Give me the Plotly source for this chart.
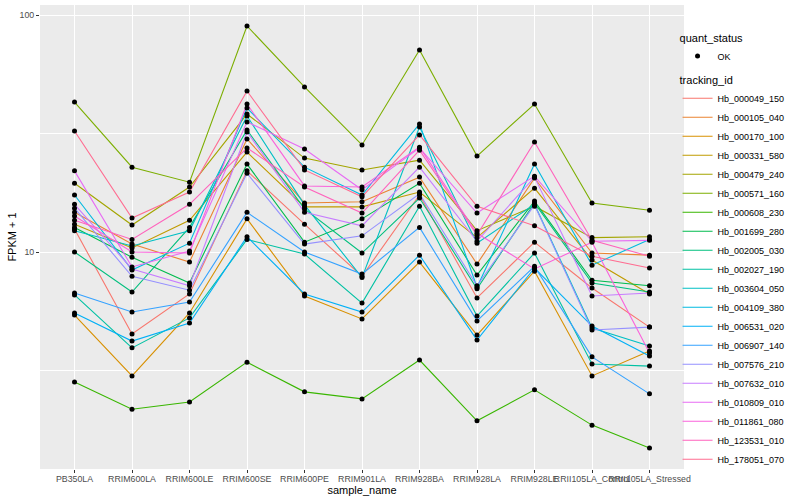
import plotly.graph_objects as go

samples = ["PB350LA", "RRIM600LA", "RRIM600LE", "RRIM600SE", "RRIM600PE", "RRIM901LA",
           "RRIM928BA", "RRIM928LA", "RRIM928LE", "RRII105LA_Control", "RRII105LA_Stressed"]

tracking_ids = ["Hb_000049_150", "Hb_000105_040", "Hb_000170_100", "Hb_000331_580", "Hb_000479_240",
                "Hb_000571_160", "Hb_000608_230", "Hb_001699_280", "Hb_002005_030", "Hb_002027_190",
                "Hb_003604_050", "Hb_004109_380", "Hb_006531_020", "Hb_006907_140", "Hb_007576_210",
                "Hb_007632_010", "Hb_010809_010", "Hb_011861_080", "Hb_123531_010", "Hb_178051_070"]

colors = ["#F8766D", "#EA8331", "#D89000", "#C09B00", "#A3A500", "#7CAE00", "#39B600", "#00BB4E",
          "#00BF7D", "#00C1A3", "#00BFC4", "#00BAE0", "#00B0F6", "#35A2FF", "#9590FF", "#C77CFF",
          "#E76BF3", "#FA62DB", "#FF62BC", "#FF6C91"]

# FPKM + 1 per sample, one list per tracking_id
hb_000049_150 = [12.5, 4.51, 6.65, 22.0, 13.1, 7.9, 17.4, 6.4, 11.0, 7.05, 4.82]
hb_000105_040 = [14.7, 10.8, 9.07, 30.0, 16.1, 16.3, 20.7, 8.9, 20.5, 9.9, 9.7]
hb_000170_100 = [5.42, 3.0, 5.53, 13.8, 6.52, 5.22, 9.07, 4.46, 8.3, 3.0, 3.82]
hb_000331_580 = [13.1, 10.4, 13.6, 26.4, 15.5, 15.5, 17.9, 11.5, 18.6, 9.25, 6.65]
hb_000479_240 = [19.5, 13.0, 18.8, 38.2, 24.9, 22.2, 24.4, 12.3, 15.6, 11.5, 11.6]
hb_000571_160 = [42.9, 22.8, 19.7, 89.9, 49.7, 28.3, 71.2, 25.4, 42.1, 16.1, 15.0]
hb_000608_230 = [2.83, 2.17, 2.33, 3.43, 2.57, 2.40, 3.50, 1.94, 2.62, 1.86, 1.49]
hb_001699_280 = [12.7, 9.5, 7.4, 23.5, 11.0, 13.8, 19.5, 8.0, 16.4, 7.6, 7.2]
hb_002005_030 = [10.0, 6.78, 12.7, 32.7, 15.2, 9.9, 16.9, 7.0, 16.1, 7.4, 6.78]
hb_002027_190 = [6.59, 3.94, 5.27, 11.3, 9.8, 6.09, 15.6, 5.37, 9.9, 3.37, 3.30]
hb_003604_050 = [12.3, 10.6, 12.3, 37.5, 15.8, 7.8, 33.7, 10.9, 15.9, 4.78, 4.01]
hb_004109_380 = [17.4, 8.4, 10.9, 40.5, 22.8, 17.4, 34.7, 7.1, 23.5, 8.8, 11.3]
hb_006531_020 = [5.53, 4.21, 5.02, 11.6, 6.65, 5.58, 9.7, 4.25, 8.56, 4.87, 3.64]
hb_006907_140 = [6.71, 5.58, 6.15, 14.7, 10.0, 8.07, 12.7, 5.12, 8.7, 3.61, 2.52]
hb_007576_210 = [15.3, 7.9, 6.9, 21.5, 10.8, 11.7, 17.6, 7.2, 15.8, 4.69, 4.82]
hb_007632_010 = [15.9, 8.48, 7.2, 32.1, 14.7, 12.9, 22.8, 11.1, 20.7, 6.52, 6.71]
hb_010809_010 = [22.0, 8.65, 10.1, 35.4, 27.2, 18.3, 27.5, 14.6, 20.9, 11.1, 11.2]
hb_011861_080 = [14.2, 10.0, 9.9, 42.1, 19.0, 18.8, 27.7, 12.0, 8.48, 11.0, 3.75]
hb_123531_010 = [13.6, 11.3, 15.9, 27.5, 18.8, 14.6, 26.9, 11.8, 29.1, 11.2, 9.6]
hb_178051_070 = [32.4, 13.9, 17.9, 47.8, 22.2, 17.1, 31.2, 15.6, 12.9, 9.6, 8.56]

series = [hb_000049_150, hb_000105_040, hb_000170_100, hb_000331_580, hb_000479_240,
          hb_000571_160, hb_000608_230, hb_001699_280, hb_002005_030, hb_002027_190,
          hb_003604_050, hb_004109_380, hb_006531_020, hb_006907_140, hb_007576_210,
          hb_007632_010, hb_010809_010, hb_011861_080, hb_123531_010, hb_178051_070]

FONT = "Liberation Sans"
fig = go.Figure()

for name, col, vals in zip(tracking_ids, colors, series):
    fig.add_trace(go.Scatter(
        x=samples, y=vals, mode="lines", name=name,
        line=dict(color=col, width=1.1),
        legend="legend2", showlegend=True, hoverinfo="skip"))

all_x, all_y = [], []
for vals in series:
    all_x.extend(samples)
    all_y.extend(vals)
fig.add_trace(go.Scatter(
    x=all_x, y=all_y, mode="markers", name="OK",
    marker=dict(color="black", size=5, symbol="circle"),
    legend="legend", showlegend=True))

fig.update_layout(
    width=800, height=500,
    showlegend=True,
    margin=dict(l=40, r=116, t=5, b=31, autoexpand=False),
    paper_bgcolor="white", plot_bgcolor="#EBEBEB",
    font=dict(family=FONT, size=9, color="black"),
    legend=dict(title=dict(text="quant_status", font=dict(size=11)),
                x=0.990, xanchor="left", y=0.952, yanchor="top",
                bgcolor="rgba(0,0,0,0)", font=dict(size=9), itemwidth=30),
    legend2=dict(title=dict(text="tracking_id", font=dict(size=11)),
                 x=0.990, xanchor="left", y=0.861, yanchor="top",
                 bgcolor="rgba(0,0,0,0)", font=dict(size=9), itemwidth=30),
    xaxis=dict(type="category", categoryorder="array", categoryarray=samples,
               range=[-0.6, 10.6], showgrid=True, gridcolor="white", gridwidth=1.1,
               ticks="outside", ticklen=3, tickcolor="#333333", tickwidth=1,
               tickangle=0, tickfont=dict(size=8.8, color="#4D4D4D"),
               ticklabelstandoff=-2,
               zeroline=False, showline=False, automargin=False,
               title=dict(text="sample_name", font=dict(size=11), standoff=0)),
    yaxis=dict(type="log", range=[0.0844, 2.0422],
               tickvals=[10, 100], ticktext=["10", "100"],
               showgrid=True, gridcolor="white", gridwidth=1.1,
               minor=dict(tickvals=[3.1623, 31.623], showgrid=True, gridcolor="white",
                          gridwidth=0.55, ticks=""),
               ticks="outside", ticklen=3, tickcolor="#333333", tickwidth=1,
               tickfont=dict(size=8.8, color="#4D4D4D"),
               zeroline=False, showline=False, automargin=False,
               title=dict(text="FPKM + 1", font=dict(size=11), standoff=0)),
)

fig.write_html("out.html", config={"displayModeBar": False},
               post_script="document.body.style.margin='0px';")
